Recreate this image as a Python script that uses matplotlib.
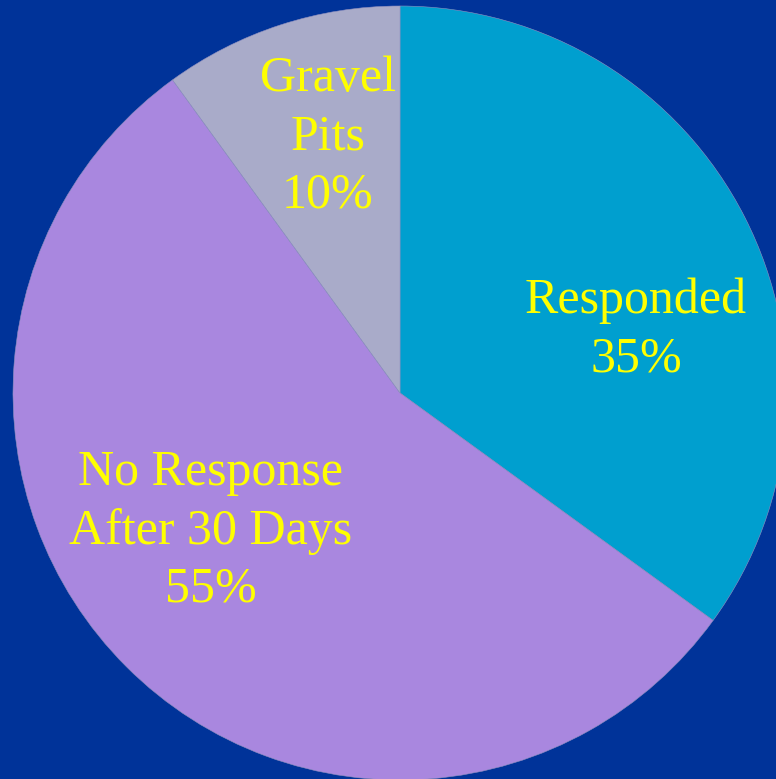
import matplotlib.pyplot as plt

# dados
categorias = ['Responded', 'No Response\nAfter 30 Days', 'Gravel\nPits']
valores = [35, 55, 10]
cores = ['#009FCF', '#A987DF', '#A9ABC9']

fig = plt.figure(figsize=(7.76, 7.79), dpi=100)
fig.patch.set_facecolor('#003399')
ax = fig.add_axes([0, 0, 1, 1])
ax.set_facecolor('#003399')

cx, cy, r = 400, 779 - 393, 387
ax.pie(valores, colors=cores, startangle=90, counterclock=False,
       center=(cx, cy), radius=r, frame=True,
       wedgeprops=dict(linewidth=0.4, edgecolor='#9090c0'))
ax.set_xlim(0, 776)
ax.set_ylim(0, 779)
ax.set_aspect('equal')
ax.axis('off')

# posicoes dos rotulos (pixels da imagem)
pos = [(636, 330), (211, 531), (328, 137)]
for nome, v, (x, y) in zip(categorias, valores, pos):
    ax.text(x, 779 - y, f'{nome}\n{v}%', ha='center', va='center',
            color='#FFFF00', fontsize=36, family='Liberation Serif',
            linespacing=1.33)

fig.savefig('out.png', dpi=100, facecolor=fig.get_facecolor())
